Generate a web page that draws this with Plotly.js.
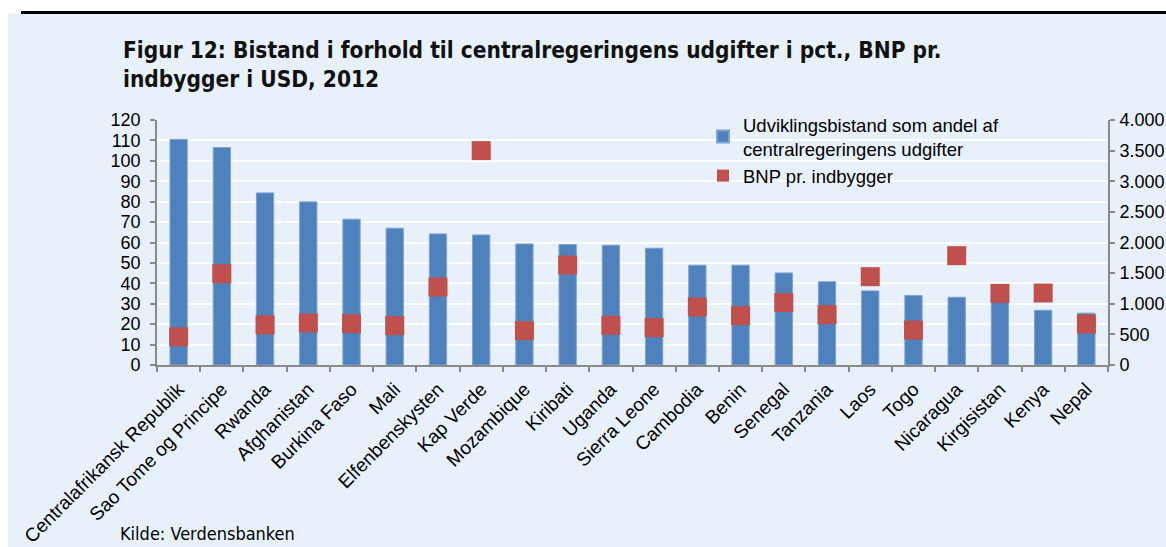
<!DOCTYPE html>
<html>
<head>
<meta charset="utf-8">
<script src="https://cdn.plot.ly/plotly-3.0.1.min.js"></script>
<style>html,body{margin:0;padding:0;background:#fff;}#chart{width:1166px;height:547px;}</style>
</head>
<body>
<div id="chart"></div>
<script>
const countries = ['Centralafrikansk Republik','Sao Tome og Principe','Rwanda','Afghanistan','Burkina Faso','Mali','Elfenbenskysten','Kap Verde','Mozambique','Kiribati','Uganda','Sierra Leone','Cambodia','Benin','Senegal','Tanzania','Laos','Togo','Nicaragua','Kirgisistan','Kenya','Nepal'];
const aidShare = [110.5, 106.5, 84.3, 79.9, 71.4, 67.0, 64.2, 63.7, 59.3, 59.0, 58.7, 57.2, 48.9, 48.9, 45.1, 40.8, 36.3, 34.0, 33.2, 32.0, 26.8, 25.4];
const gdpPerCapita = [460, 1490, 655, 686, 675, 642, 1273, 3500, 560, 1633, 648, 610, 947, 805, 1018, 822, 1442, 571, 1785, 1170, 1175, 669];
const seriesNames = ['Udviklingsbistand som andel af<br>centralregeringens udgifter', 'BNP pr. indbygger'];
const titleText = 'Figur 12: Bistand i forhold til centralregeringens udgifter i pct., BNP pr.<br>indbygger i USD, 2012';
const sourceText = 'Kilde: Verdensbanken';

const W = 1166, H = 547;
const M = {l: 157, r: 58, t: 120, b: 182};
const PW = W - M.l - M.r, PH = H - M.t - M.b;
const px2x = p => (p - M.l) / PW;
const px2y = p => (H - M.b - p) / PH;

const sans = 'Liberation Sans, Arial, Helvetica, sans-serif';
const narrow = 'Liberation Sans Narrow, Arial Narrow, DejaVu Sans Condensed, sans-serif';
const bg = '#e8f1fa';
const axisGray = '#8a8a8a';

const traces = [
  {
    type: 'bar', x: countries, y: aidShare, name: seriesNames[0],
    marker: {color: '#4f81bd', line: {color: '#7fa3d1', width: 1}},
    width: 0.4, yaxis: 'y', hoverinfo: 'x+y'
  },
  {
    type: 'scatter', mode: 'markers', x: countries, y: gdpPerCapita, name: seriesNames[1],
    marker: {symbol: 'square', size: 19, color: '#c0504d'},
    yaxis: 'y2', hoverinfo: 'x+y'
  }
];

const layout = {
  width: W, height: H,
  margin: M,
  paper_bgcolor: '#ffffff',
  plot_bgcolor: 'rgba(0,0,0,0)',
  separators: ',.',
  font: {family: sans, size: 18, color: '#000'},
  title: {
    text: titleText,
    xref: 'container', yref: 'container',
    x: 123 / W, xanchor: 'left',
    y: 1 - 58 / H, yanchor: 'top',
    font: {family: narrow, size: 22.5, weight: 'bold', color: '#111'}
  },
  showlegend: true,
  legend: {
    x: px2x(703), xanchor: 'left',
    y: px2y(106), yanchor: 'top',
    bgcolor: 'rgba(0,0,0,0)',
    font: {family: sans, size: 18.5, color: '#000'},
    itemsizing: 'constant',
    tracegroupgap: 0
  },
  xaxis: {
    type: 'category',
    range: [-0.5, countries.length - 0.5],
    tickangle: -45,
    tickfont: {family: sans, size: 19, color: '#000'},
    ticks: 'outside', tickson: 'boundaries', ticklen: 5, tickcolor: axisGray, tickwidth: 1.5,
    showline: true, linecolor: axisGray, linewidth: 1.7,
    showgrid: false, zeroline: false, ticklabelstandoff: 4
  },
  yaxis: {
    range: [0, 120], dtick: 10, tick0: 0,
    tickfont: {family: sans, size: 18, color: '#000'},
    ticks: 'outside', ticklen: 5, tickcolor: axisGray, tickwidth: 1.5,
    showline: true, linecolor: axisGray, linewidth: 1.7,
    showgrid: true, gridcolor: '#ffffff', gridwidth: 2,
    zeroline: false, ticklabelstandoff: 6
  },
  yaxis2: {
    range: [0, 4000], dtick: 500, tick0: 0,
    overlaying: 'y', side: 'right',
    tickformat: ',d',
    tickfont: {family: sans, size: 18, color: '#000'},
    ticks: 'outside', ticklen: 5, tickcolor: axisGray, tickwidth: 1.5,
    showline: true, linecolor: axisGray, linewidth: 1.7,
    showgrid: false, zeroline: false, ticklabelstandoff: 1
  },
  shapes: [
    {type: 'rect', xref: 'paper', yref: 'paper', layer: 'below',
     x0: px2x(8), x1: px2x(W + 2), y0: px2y(H + 2), y1: px2y(13.5),
     fillcolor: bg, line: {width: 0}},
    {type: 'line', xref: 'paper', yref: 'paper', layer: 'above',
     x0: px2x(21), x1: px2x(W + 2), y0: px2y(12.5), y1: px2y(12.5),
     line: {color: '#000', width: 3}}
  ],
  annotations: [
    {text: sourceText, xref: 'paper', yref: 'paper', x: px2x(118), y: px2y(533),
     xanchor: 'left', yanchor: 'middle', showarrow: false,
     font: {family: narrow, size: 18, color: '#000'}}
  ]
};

Plotly.newPlot('chart', traces, layout, {displayModeBar: false, responsive: false});
</script>
</body>
</html>
